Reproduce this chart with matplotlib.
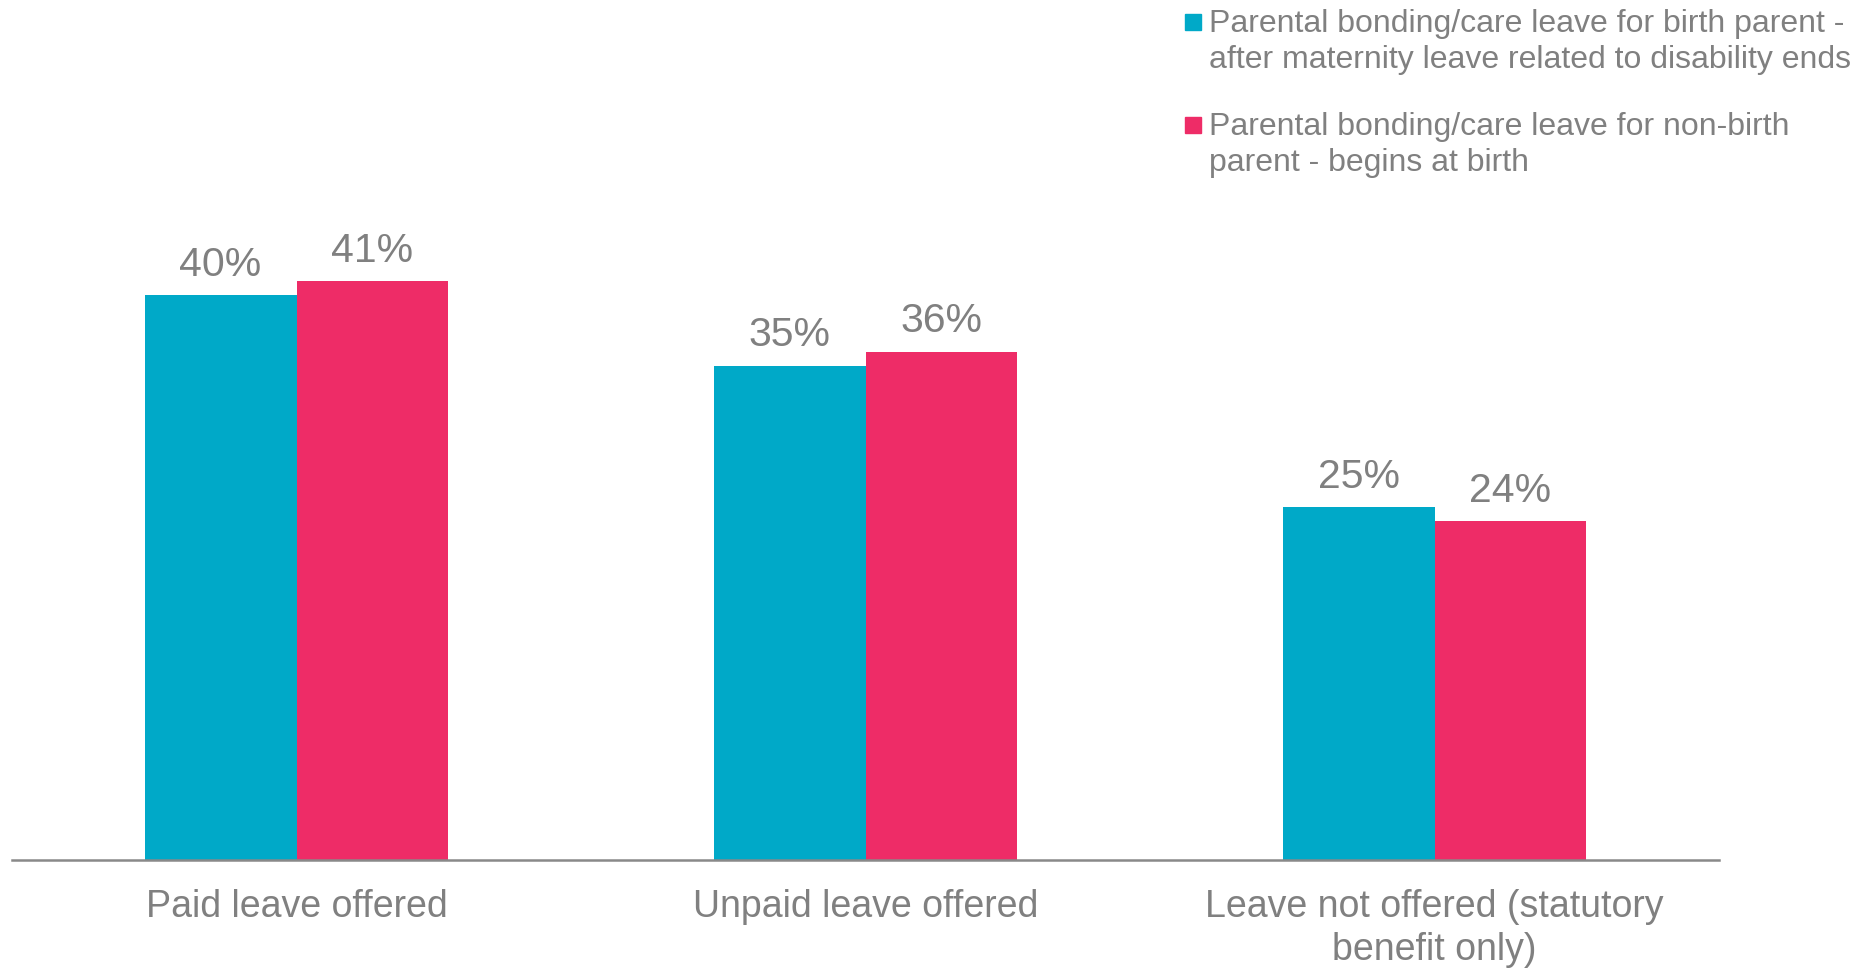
import matplotlib.pyplot as plt
import numpy as np
from matplotlib.patches import Rectangle

# ---------------------------------------------------------------
# data
# ---------------------------------------------------------------
categories = ["Paid leave offered", "Unpaid leave offered",
              "Leave not offered (statutory\nbenefit only)"]
series_names = ["Parental bonding/care leave for birth parent -\nafter maternity leave related to disability ends",
                "Parental bonding/care leave for non-birth\nparent - begins at birth"]
birth_parent = [40, 35, 25]
non_birth_parent = [41, 36, 24]

colors = ["#00A9C8", "#EE2C67"]
grey = "#808080"

plt.rcParams['font.family'] = ['Liberation Sans', 'DejaVu Sans']

# ---------------------------------------------------------------
# plot
# ---------------------------------------------------------------
fig = plt.figure(figsize=(18.68, 9.68), dpi=100)
ax = fig.add_axes([12 / 1868, 108 / 968, 1707 / 1868, 706 / 968])

x = np.arange(len(categories))
w = 0.267
values = [birth_parent, non_birth_parent]
for i, (vals, col) in enumerate(zip(values, colors)):
    bars = ax.bar(x + (i - 0.5) * w, vals, width=w, color=col, edgecolor="none")
    for b, v in zip(bars, vals):
        ax.annotate(f"{v}%", (b.get_x() + b.get_width() / 2, b.get_height()),
                    xytext=(0, 14), textcoords="offset points",
                    ha="center", va="baseline", fontsize=29.5, color=grey)

ax.set_xlim(-0.5, 2.5)
ax.set_ylim(0, 50)
ax.set_xticks(x)
ax.set_xticklabels(categories, fontsize=27, color=grey, linespacing=1.25)
ax.tick_params(axis="x", length=0, pad=21)
ax.set_yticks([])
for s in ["top", "right", "left"]:
    ax.spines[s].set_visible(False)
ax.spines["bottom"].set_color("#898989")
ax.spines["bottom"].set_linewidth(1.8)

# legend drawn by hand so the square sits on the first text line
legend_baselines = [32, 135]
line_gap = 36
for name, col, yb in zip(series_names, colors, legend_baselines):
    fig.patches.append(Rectangle((1185 / 1868, 1 - (yb - 2) / 968), 16 / 1868, 16 / 968,
                                 transform=fig.transFigure, color=col))
    for k, line in enumerate(name.split("\n")):
        fig.text(1209 / 1868, 1 - (yb + k * line_gap) / 968, line, fontsize=23,
                 color=grey, va="baseline", ha="left")

fig.savefig("out.png", dpi=100)
